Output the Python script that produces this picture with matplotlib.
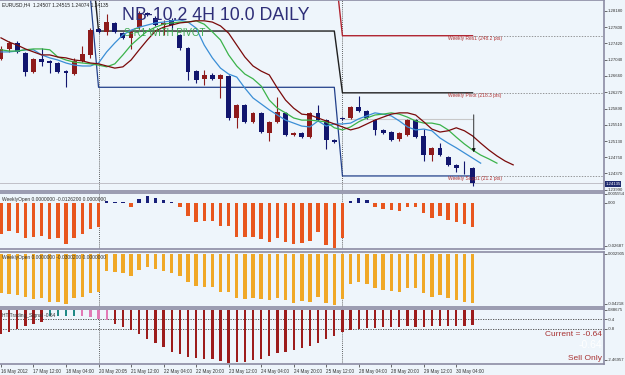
import matplotlib
matplotlib.use("Agg")
import matplotlib.pyplot as plt
from matplotlib import font_manager
import numpy as np

# ---- candles (EURUSD H4) ----
opens = [1.2705, 1.2729, 1.2743, 1.2720, 1.2675, 1.2705, 1.2701, 1.2696, 1.2677, 1.2670,
         1.2701, 1.2715, 1.2776, 1.2769, 1.2790, 1.2766, 1.2755, 1.2780, 1.2813, 1.2802,
         1.2785, 1.2797, 1.2762, 1.2731, 1.2677, 1.2658, 1.2668, 1.2658, 1.2666, 1.2567,
         1.2598, 1.2558, 1.2579, 1.2532, 1.2558, 1.2579, 1.2527, 1.2532, 1.2522, 1.2579,
         1.2562, 1.2515, 1.2567, 1.2567, 1.2593, 1.2583, 1.2562, 1.2539, 1.2534, 1.2518,
         1.2527, 1.2562, 1.2525, 1.2480, 1.2497, 1.2476, 1.2457, 1.2450, 1.24507]
highs = [1.2736, 1.2748, 1.2748, 1.2722, 1.2708, 1.2731, 1.2703, 1.2698, 1.2679, 1.2708,
         1.2736, 1.2778, 1.2778, 1.2811, 1.2792, 1.2769, 1.2771, 1.2818, 1.2816, 1.2806,
         1.2797, 1.2802, 1.2764, 1.2733, 1.2680, 1.2680, 1.2673, 1.2670, 1.2668, 1.2600,
         1.2600, 1.2581, 1.2581, 1.2560, 1.2616, 1.2581, 1.2534, 1.2534, 1.2581, 1.2597,
         1.2565, 1.2518, 1.2570, 1.2595, 1.2619, 1.2586, 1.2565, 1.2541, 1.2537, 1.2534,
         1.2565, 1.2565, 1.2541, 1.2499, 1.2508, 1.2478, 1.2459, 1.2466, 1.24515]
lows = [1.2703, 1.2722, 1.2720, 1.2666, 1.2672, 1.2689, 1.2673, 1.2672, 1.2640, 1.2668,
        1.2699, 1.2708, 1.2766, 1.2762, 1.2766, 1.2752, 1.2729, 1.2776, 1.2806, 1.2783,
        1.2762, 1.2774, 1.2727, 1.2656, 1.2649, 1.2644, 1.2656, 1.2614, 1.2563, 1.2544,
        1.2556, 1.2556, 1.2532, 1.2513, 1.2556, 1.2525, 1.2525, 1.2520, 1.2520, 1.2560,
        1.2494, 1.2508, 1.2562, 1.2565, 1.2581, 1.2565, 1.2527, 1.2529, 1.2513, 1.2513,
        1.2525, 1.2520, 1.2466, 1.2466, 1.2478, 1.2455, 1.2441, 1.2436, 1.24074]
closes = [1.2729, 1.2743, 1.2722, 1.2675, 1.2705, 1.2698, 1.2696, 1.2675, 1.2672, 1.2701,
          1.2717, 1.2773, 1.2769, 1.2792, 1.2769, 1.2755, 1.2769, 1.2813, 1.2809, 1.2785,
          1.2790, 1.2785, 1.2731, 1.2675, 1.2656, 1.2668, 1.2658, 1.2668, 1.2567, 1.2598,
          1.2558, 1.2579, 1.2534, 1.2558, 1.2581, 1.2527, 1.2532, 1.2522, 1.2579, 1.2562,
          1.2515, 1.2511, 1.2565, 1.2593, 1.2583, 1.2567, 1.2539, 1.2532, 1.2515, 1.2532,
          1.2562, 1.2522, 1.2480, 1.2497, 1.2480, 1.2457, 1.2450, 1.2449, 1.24135]

# moving averages (drawn shifted forward, so they run past the last candle)
ma_fast = [1.2722, 1.2722, 1.2724, 1.2727, 1.2727, 1.2715, 1.2708, 1.2703, 1.2696, 1.2691,
           1.2689, 1.2689, 1.2696, 1.2722, 1.2743, 1.2762, 1.2773, 1.2780, 1.2785, 1.2790,
           1.2792, 1.2795, 1.2797, 1.2792, 1.2778, 1.2738, 1.2708, 1.2684, 1.2670, 1.2663,
           1.2637, 1.2614, 1.2600, 1.2586, 1.2574, 1.2562, 1.2555, 1.2548, 1.2546, 1.2560,
           1.2548, 1.2553, 1.2553, 1.2555, 1.2565, 1.2572, 1.2579, 1.2576, 1.2572, 1.2560,
           1.2546, 1.2539, 1.2541, 1.2537, 1.2520, 1.2508, 1.2497, 1.2485, 1.2473, 1.2461]
ma_mid = [1.2727, 1.2724, 1.2724, 1.2727, 1.2729, 1.2729, 1.2727, 1.2710, 1.2703, 1.2698,
          1.2696, 1.2694, 1.2691, 1.2687, 1.2694, 1.2715, 1.2738, 1.2755, 1.2771, 1.2780,
          1.2787, 1.2790, 1.2792, 1.2792, 1.2795, 1.2787, 1.2769, 1.2750, 1.2715, 1.2689,
          1.2670, 1.2659, 1.2642, 1.2609, 1.2590, 1.2579, 1.2567, 1.2562, 1.2562, 1.2560,
          1.2558, 1.2544, 1.2539, 1.2546, 1.2558, 1.2567, 1.2574, 1.2576, 1.2579, 1.2576,
          1.2569, 1.2560, 1.2555, 1.2555, 1.2551, 1.2539, 1.2522, 1.2506, 1.2492, 1.2480,
          1.2471, 1.2461]
ma_slow = [1.2755, 1.2745, 1.2738, 1.2729, 1.2722, 1.2715, 1.2715, 1.2710, 1.2708, 1.2703,
           1.2701, 1.2696, 1.2694, 1.2689, 1.2684, 1.2687, 1.2703, 1.2727, 1.2750, 1.2771,
           1.2780, 1.2785, 1.2790, 1.2792, 1.2795, 1.2795, 1.2792, 1.2783, 1.2766, 1.2738,
           1.2710, 1.2689, 1.2677, 1.2668, 1.2637, 1.2609, 1.2590, 1.2576, 1.2574, 1.2567,
           1.2560, 1.2553, 1.2546, 1.2539, 1.2544, 1.2553, 1.2562, 1.2569, 1.2576, 1.2579,
           1.2579, 1.2574, 1.2558, 1.2541, 1.2534, 1.2537, 1.2544, 1.2537, 1.2525, 1.2508,
           1.2492, 1.2478, 1.2466, 1.2457]

# weekly pivot levels (one value per week)
week_first_bar = [0, 12, 42]
week_res1 = [1.3100, 1.2933, 1.2760]
week_pivot = [1.2965, 1.2771, 1.2626]
week_supp1 = [1.2850, 1.2639, 1.2431]
bid = 1.24135

# indicator windows
weekly_open_a = [-0.0198, -0.0175, -0.0188, -0.0219, -0.0213, -0.0206, -0.0229, -0.0223, -0.0258, -0.0223,
                 -0.0194, -0.0163, -0.0152, 0.0008, 0.0003, 0.0002, -0.0025, 0.0025, 0.0040, 0.0030,
                 0.0020, 0.0003, -0.0025, -0.0083, -0.0119, -0.0115, -0.0115, -0.0144, -0.0144, -0.0217,
                 -0.0213, -0.0217, -0.0227, -0.0244, -0.0223, -0.0244, -0.0260, -0.0254, -0.0240, -0.0181,
                 -0.0265, -0.0281, -0.0219, 0.0008, 0.0030, 0.0015, -0.0025, -0.0040, -0.0046, -0.0052,
                 -0.0025, -0.0025, -0.0067, -0.0098, -0.0081, -0.0108, -0.0119, -0.0135, -0.0154]
weekly_open_b = [-0.0329, -0.0341, -0.0349, -0.0369, -0.0383, -0.0378, -0.0406, -0.0406, -0.0426, -0.0378,
                 -0.0364, -0.0335, -0.0321, -0.0142, -0.0156, -0.0165, -0.0185, -0.0136, -0.0114, -0.0128,
                 -0.0142, -0.0165, -0.0185, -0.0241, -0.0273, -0.0278, -0.0284, -0.0321, -0.0327, -0.0378,
                 -0.0383, -0.0378, -0.0383, -0.0392, -0.0378, -0.0392, -0.0420, -0.0398, -0.0406, -0.0364,
                 -0.0420, -0.0435, -0.0383, -0.0256, -0.0236, -0.0256, -0.0287, -0.0307, -0.0315, -0.0321,
                 -0.0293, -0.0293, -0.0335, -0.0364, -0.0349, -0.0372, -0.0392, -0.0406, -0.0420]
signal = [-1.02, -0.91, -0.81, -0.67, -0.59, -0.49, -0.25, -0.25, -0.25, -0.25,
          -0.25, -0.28, -0.38, -0.42, -0.59, -0.70, -0.84, -1.02, -1.22, -1.40,
          -1.57, -1.75, -1.87, -1.97, -2.01, -2.04, -2.08, -2.13, -2.22, -2.18,
          -2.18, -2.11, -2.08, -1.94, -1.82, -1.78, -1.68, -1.61, -1.50, -1.38,
          -1.24, -1.09, -0.94, -0.84, -0.81, -0.77, -0.77, -0.73, -0.73, -0.70,
          -0.67, -0.70, -0.70, -0.67, -0.67, -0.67, -0.67, -0.67, -0.64]
signal_state = ["sell"] * 6 + ["flat"] * 4 + ["buy"] * 4 + ["sell"] * 45

time_labels = ["16 May 2012", "17 May 12:00", "18 May 04:00", "20 May 20:05", "21 May 12:00",
               "22 May 04:00", "22 May 20:00", "23 May 12:00", "24 May 04:00", "24 May 20:00",
               "25 May 12:00", "28 May 04:00", "28 May 20:00", "29 May 12:00", "30 May 04:00"]
time_label_bars = list(range(0, 59, 4))

# ---- style ----
W, H = 625, 375
BG = "#eef5fb"
BULL, BEAR = "#8e1b1b", "#12166e"
GRID = "#8c8ca4"
installed = {f.name for f in font_manager.fontManager.ttflist}
NARROW = "Liberation Sans Narrow" if "Liberation Sans Narrow" in installed else "Liberation Sans"
plt.rcParams["font.family"] = [NARROW, "DejaVu Sans"]
AXFS = 3.1

XLIM = (-0.12, 74.17)

fig = plt.figure(figsize=(6.25, 3.75), dpi=100)
fig.patch.set_facecolor(BG)


def panel(top, bottom):
    ax = fig.add_axes([0, 1 - bottom / H, 604 / W, (bottom - top) / H])
    ax.set_facecolor(BG)
    ax.set_xlim(XLIM)
    ax.spines["left"].set_visible(False)
    for s in ("top", "bottom", "right"):
        ax.spines[s].set_color(GRID)
        ax.spines[s].set_linewidth(1.2)
    ax.yaxis.tick_right()
    ax.tick_params(axis="y", direction="out", length=1.8, width=0.5, labelsize=AXFS,
                   pad=0.8, colors="#303030")
    ax.set_xticks([])
    for wb in week_first_bar[1:]:
        ax.axvline(wb, color="#303030", ls=(0, (1, 1.5)), lw=0.6, zorder=1)
    return ax


def ftext(xpx, ypx, s, **kw):
    fig.text(xpx / W, 1 - ypx / H, s, **kw)


# ---- main price window ----
ax = panel(0, 191)
ax.set_ylim(1.23957, 1.28438)
ax.set_yticks([1.28180, 1.27800, 1.27420, 1.27040, 1.26660, 1.26270,
               1.25890, 1.25510, 1.25130, 1.24750, 1.24370, 1.23990])
ax.set_yticklabels(["1.28180", "1.27800", "1.27420", "1.27040", "1.26660", "1.26270",
                    "1.25890", "1.25510", "1.25130", "1.24750", "1.24370", "1.23990"])

x = np.arange(len(opens))
o, h, l, c = map(np.array, (opens, highs, lows, closes))
cols = np.where(c >= o, BULL, BEAR)
ax.vlines(x, l, h, colors=cols, lw=0.8, zorder=3)
body = np.maximum(np.abs(c - o), 0.00006)
ax.bar(x, body, bottom=np.minimum(o, c), width=0.6, color=cols, zorder=3)

ax.plot(np.arange(len(ma_fast)), ma_fast, color="#3a8ed6", lw=0.9, zorder=4)
ax.plot(np.arange(len(ma_mid)), ma_mid, color="#3bb34a", lw=0.9, zorder=4)
ax.plot(np.arange(len(ma_slow)), ma_slow, color="#7a0a0a", lw=0.9, zorder=4)

week_len = np.diff(week_first_bar + [len(opens)])
for levels, col, lw in ((week_res1, "#b02430", 1.0), (week_pivot, "#202020", 1.0),
                        (week_supp1, "#22408a", 0.9)):
    series = np.repeat(levels, week_len)
    ax.plot(x, series, color=col, lw=lw, zorder=2)
    ax.hlines(levels[-1], x[-1], XLIM[1], colors="#707070", linestyles=(0, (2, 2)), lw=0.5)

ax.hlines(1.2565, week_first_bar[-1], x[-1], colors="#c8c8c8", lw=0.8, zorder=1)
ax.axhline(bid, color="#c0c0c8", lw=0.7, zorder=1)
ax.annotate("", xy=(58.15, 1.2480), xytext=(58.15, 1.2581),
            arrowprops=dict(arrowstyle="-|>", color="#101010", lw=0.6, mutation_scale=5),
            zorder=5)

ax.text(55.0, week_res1[-1] - 0.0001, "Weekly Res1 (248.2 pts)", fontsize=3.5,
        color="#b03030", va="top")
ax.text(55.0, week_pivot[-1] - 0.0001, "Weekly Pivot (218.3 pts)", fontsize=3.5,
        color="#b03030", va="top")
ax.text(55.0, week_supp1[-1] - 0.0001, "Weekly Supp1 (21.2 pts)", fontsize=3.5,
        color="#b03030", va="top")

ftext(2, 4.5, "EURUSD,H4  1.24507 1.24515 1.24074 1.24135", fontsize=3.5,
      color="#202020", va="center")
ftext(122, 16, "NB-10.2 4H 10.0 DAILY", fontsize=12.8, color="#2e2e78",
      va="center", zorder=1)
ftext(124, 32.5, "S-R1 WITH PIVOT", fontsize=7.0, color="#3caa50", va="center")
ftext(605.5, 184, "1.24135", fontsize=AXFS, color="white", va="center",
      bbox=dict(boxstyle="square,pad=0.15", fc="#1e2a6e", ec="none"))

# ---- weekly open (a) ----
ax2 = panel(193, 249)
ax2.set_ylim(-0.0289, 0.0061)
xa = np.arange(len(weekly_open_a))
va = np.array(weekly_open_a)
ax2.bar(xa, va, width=0.42, color=np.where(va >= 0, "#18207a", "#e8561e"), zorder=3)
ax2.set_yticks([0.005554, 0.0, -0.02687])
ax2.set_yticklabels(["0.005554", "0.00", "-0.02687"])
ax2.text(0.004, 0.93, "WeeklyOpen 0.0000000 -0.0126200 0.0000000", transform=ax2.transAxes,
         fontsize=3.5, color="#303030", va="top")

# ---- weekly open (b) ----
ax3 = panel(252, 307)
ax3.set_ylim(-0.04516, 0.0017)
xb = np.arange(len(weekly_open_b))
ax3.bar(xb, weekly_open_b, width=0.42, color="#f0a826", zorder=3)
ax3.set_yticks([0.0, -0.04218])
ax3.set_yticklabels(["0.002905", "-0.04218"])
ax3.text(0.004, 0.95, "WeeklyOpen 0.0000000 -0.0300200 0.0000000", transform=ax3.transAxes,
         fontsize=3.5, color="#303030", va="top")

# ---- trading signal ----
ax4 = panel(309, 364)
ax4.set_ylim(-2.27, 0.04)
state_col = {"sell": "#9c1c1c", "flat": "#1f8a86", "buy": "#e27ab6"}
xs = np.arange(len(signal))
ax4.bar(xs, signal, width=0.28, color=[state_col[s] for s in signal_state], zorder=3)
for lvl in (-0.4, -0.8):
    ax4.axhline(lvl, color="#404040", ls=(0, (1.5, 1.5)), lw=0.6, zorder=2)
ax4.set_yticks([0.0, -0.4, -0.8, -2.1])
ax4.set_yticklabels(["0.88675", "-0.4", "-0.8", "-2.46957"])
ax4.text(0.004, 0.93, "HT Trading_Signal -0.64", transform=ax4.transAxes,
         fontsize=3.5, color="#303030", va="top")
ax4.set_xticks(time_label_bars)
ax4.set_xticklabels(time_labels)
ax4.tick_params(axis="x", direction="out", length=2, width=0.5, labelsize=3.3, pad=1.5,
                colors="#303030")
for t in ax4.get_xticklabels():
    t.set_ha("left")

ftext(602, 334, "Current = -0.64", fontsize=6, color="#a83232", ha="right", va="center")
ftext(602, 345.5, "-0.64", fontsize=7.5, color="white", ha="right", va="center")
ftext(602, 359, "Sell Only", fontsize=6, color="#a83232", ha="right", va="center")

fig.savefig("out.png", dpi=100, facecolor=BG)
